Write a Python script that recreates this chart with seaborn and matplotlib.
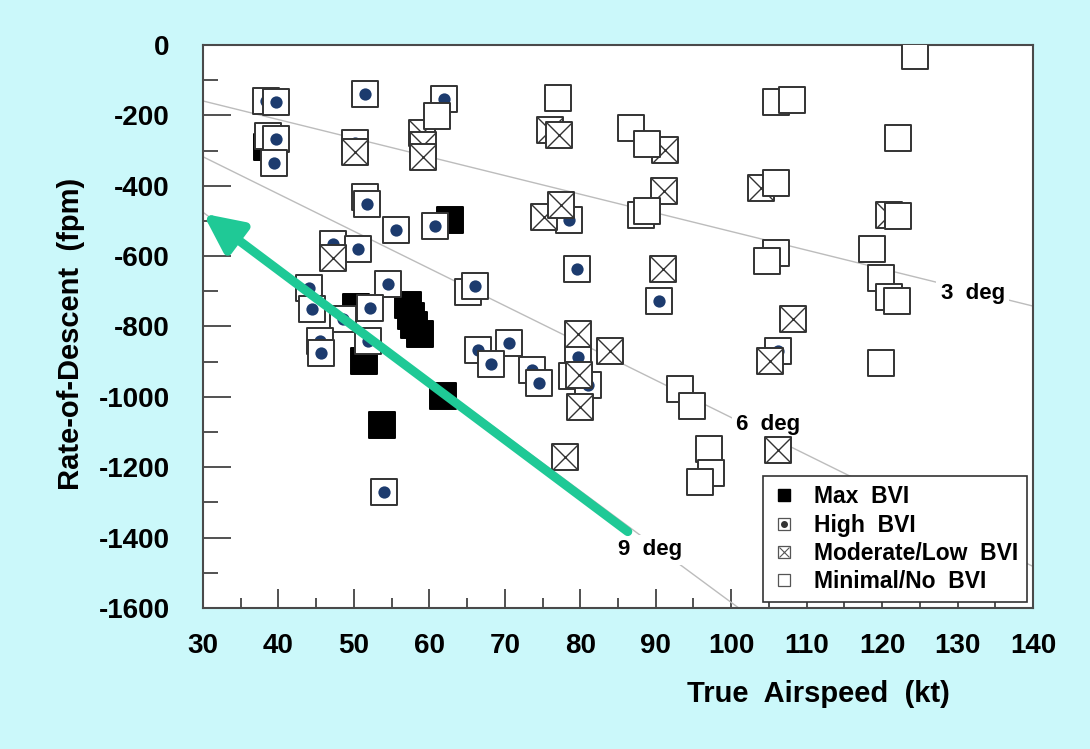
import numpy as np
import pandas as pd
import matplotlib
matplotlib.use("Agg")
import matplotlib.pyplot as plt
from matplotlib.lines import Line2D
from matplotlib.ticker import MultipleLocator
import seaborn as sns

# ---- flight-test points: true airspeed (kt) vs rate of descent (fpm) ----
max_kt = [38.5, 50.3, 57.2, 57.6, 58.0, 58.8, 51.4, 61.8, 53.7, 62.8]
max_fpm = [-290, -745, -740, -770, -795, -822, -898, -998, -1080, -497]

high_kt = [38.4, 39.7, 38.6, 39.7, 39.4, 51.5, 50.2, 62.0, 51.5, 51.7, 55.6, 60.7,
           47.2, 50.6, 54.5, 44.0, 44.5, 52.1, 48.6, 51.9, 45.5, 45.6, 54.0, 65.1,
           66.1, 70.5, 66.5, 68.2, 73.6, 74.5, 78.5, 79.6, 90.4, 79.7, 78.9, 81.0,
           106.2]
high_fpm = [-160, -162, -258, -267, -335, -140, -278, -153, -432, -451, -526, -513,
            -566, -580, -680, -691, -751, -748, -780, -840, -841, -875, -1269, -703,
            -686, -846, -868, -906, -925, -960, -497, -638, -727, -886, -941, -965,
            -870]

mod_kt = [50.2, 59.0, 59.1, 59.1, 47.3, 76.0, 77.2, 91.2, 75.2, 77.4, 91.1, 91.0,
          79.7, 79.8, 80.0, 84.0, 78.0, 103.9, 120.9, 108.2, 105.2, 106.2]
mod_fpm = [-305, -250, -285, -318, -604, -242, -257, -297, -490, -455, -415, -638,
           -820, -937, -1030, -870, -1171, -407, -484, -779, -899, -1150]

min_kt = [77.1, 86.7, 88.9, 88.0, 88.9, 61.0, 93.2, 94.8, 97.0, 97.3, 95.9, 124.3,
          105.9, 108.1, 122.1, 106.0, 122.1, 105.9, 104.7, 118.7, 119.8, 120.9,
          122.0, 119.8]
min_fpm = [-151, -237, -282, -482, -471, -203, -979, -1025, -1148, -1215, -1243, -30,
           -162, -155, -263, -391, -485, -590, -615, -579, -661, -715, -728, -904]

levels = ["Max  BVI", "High  BVI", "Moderate/Low  BVI", "Minimal/No  BVI"]

# glide-slope reference lines (deg) and where their labels sit
glide_deg = [3, 6, 9]
glide_label_kt = [132.0, 104.9, 89.2]
glide_label_fpm = [-705, -1078, -1435]

# approach-path arrow (tail -> head)
arrow_kt = [86.3, 30.0]
arrow_fpm = [-1383, -479]

xticks = list(range(30, 141, 10))
yticks = list(range(-1600, 1, 200))

# ---- styling ----
BG = "#cbf8fa"
EDGE = "#333333"
NAVY = "#1c3b6e"
GREEN = "#1fc996"
SQ = 375      # square marker area (pt^2)
DOT = 78
XS = 330

sns.set_theme(style="white")
plt.rcParams["font.family"] = ["Liberation Sans", "DejaVu Sans"]
plt.rcParams["font.weight"] = "bold"
plt.rcParams["axes.unicode_minus"] = False
for key in ["text.color", "axes.labelcolor", "xtick.labelcolor", "ytick.labelcolor"]:
    plt.rcParams[key] = "black"

frames = []
for name, xs, ys in [(levels[0], max_kt, max_fpm), (levels[1], high_kt, high_fpm),
                     (levels[2], mod_kt, mod_fpm), (levels[3], min_kt, min_fpm)]:
    frames.append(pd.DataFrame({"kt": xs, "fpm": ys, "level": name}))
df = pd.concat(frames, ignore_index=True)

fig = plt.figure(figsize=(10.9, 7.49), dpi=100, facecolor=BG)
ax = fig.add_axes([0.1862, 0.1883, 0.7615, 0.7516])
ax.set_facecolor("white")

# glide-slope lines: descent rate = V * (6076.12/60) * sin(angle)
v = np.array([30.0, 140.0])
for deg, lx, ly in zip(glide_deg, glide_label_kt, glide_label_fpm):
    rod = -v * 6076.12 / 60.0 * np.sin(np.radians(deg))
    sns.lineplot(x=v, y=rod, ax=ax, color="#bcbcbc", linewidth=1.0, zorder=1,
                 legend=False)
    ax.text(lx, ly, f"{deg}  deg", fontsize=16, fontweight="bold", ha="center",
            va="center", zorder=2, color="black",
            bbox=dict(facecolor="white", edgecolor="none", pad=3))

# points, drawn one after another so overlapping symbols stack correctly
face = {levels[0]: "black", levels[1]: "white", levels[2]: "white", levels[3]: "white"}
for _, row in df.iterrows():
    pt = pd.DataFrame({"kt": [row.kt], "fpm": [row.fpm]})
    sns.scatterplot(data=pt, x="kt", y="fpm", ax=ax, marker="s", s=SQ,
                    color=face[row.level],
                    edgecolor="black" if row.level == levels[0] else EDGE,
                    linewidth=1.4, zorder=3, legend=False)
    if row.level == levels[1]:
        sns.scatterplot(data=pt, x="kt", y="fpm", ax=ax, marker="o", s=DOT,
                        color=NAVY, edgecolor=NAVY, linewidth=0, zorder=3,
                        legend=False)
    elif row.level == levels[2]:
        sns.scatterplot(data=pt, x="kt", y="fpm", ax=ax, marker="x", s=XS,
                        color=EDGE, linewidth=1.0, zorder=3, legend=False)

# approach arrow
ax.annotate("", xy=(arrow_kt[1], arrow_fpm[1]), xytext=(arrow_kt[0], arrow_fpm[0]),
            arrowprops=dict(arrowstyle="-|>,head_length=1.15,head_width=0.55",
                            mutation_scale=20, lw=6.5, color=GREEN,
                            shrinkA=0, shrinkB=0),
            zorder=6, annotation_clip=False)

# axes, ticks
ax.set_xlim(30, 140)
ax.set_ylim(-1600, 0)
ax.set_xticks(xticks)
ax.set_yticks(yticks)
ax.xaxis.set_minor_locator(MultipleLocator(5))
ax.yaxis.set_minor_locator(MultipleLocator(100))
ax.tick_params(axis="y", which="major", direction="in", length=20, width=1.2,
               color="#333333", pad=24, labelsize=20, labelcolor="black")
ax.tick_params(axis="y", which="minor", direction="in", length=11, width=1.2,
               color="#333333")
ax.tick_params(axis="x", which="major", direction="in", length=14, width=1.2,
               color="#333333", pad=18, labelsize=20, labelcolor="black")
ax.tick_params(axis="x", which="minor", direction="in", length=7, width=1.2,
               color="#333333")
ax.tick_params(left=True, bottom=True, top=False, right=False, which="both")
for lab in ax.get_xticklabels() + ax.get_yticklabels():
    lab.set_fontweight("bold")
for s in ax.spines.values():
    s.set_color("#4a4a4a")
    s.set_linewidth(1.5)

ax.set_xlabel("True  Airspeed  (kt)", fontsize=21, fontweight="bold", color="black")
ax.set_ylabel("Rate-of-Descent  (fpm)", fontsize=21, fontweight="bold", color="black")
ax.xaxis.set_label_coords(0.742, -0.128)
ax.yaxis.set_label_coords(-0.142, 0.487)

# legend
sq_kw = dict(linestyle="none", marker="s", markersize=8)
h_max = Line2D([], [], markerfacecolor="black", markeredgecolor="black", **sq_kw)
h_sq = Line2D([], [], markerfacecolor="white", markeredgecolor="#555555",
              markeredgewidth=0.9, **sq_kw)
h_dot = Line2D([], [], linestyle="none", marker="o", markersize=4,
               color="#333333")
h_x = Line2D([], [], linestyle="none", marker="x", markersize=7,
             color="#555555", markeredgewidth=0.8)
leg = ax.legend([h_max, (h_sq, h_dot), (h_sq, h_x), h_sq], levels,
                loc="lower right", bbox_to_anchor=(0.993, 0.011), borderaxespad=0,
                frameon=True, fancybox=False, edgecolor="#333333",
                framealpha=1, facecolor="white", fontsize=16.5,
                handlelength=1.0, handletextpad=0.8, labelspacing=0.22,
                borderpad=0.4)
leg.get_frame().set_linewidth(1.2)
leg.set_zorder(10)
for t in leg.get_texts():
    t.set_fontweight("bold")
    t.set_color("black")

fig.savefig("out.png", dpi=100, facecolor=BG)
